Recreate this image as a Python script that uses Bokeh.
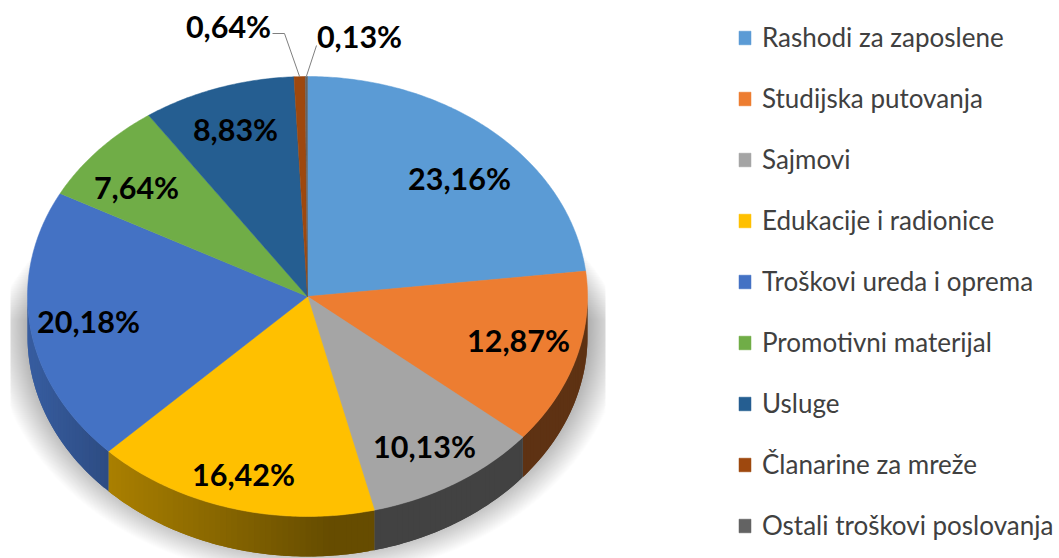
from bokeh.plotting import figure
from bokeh.models import Range1d, Legend, LegendItem
from bokeh.core.properties import value
from bokeh.embed import file_html
from bokeh.resources import INLINE
import numpy as np

categories = ["Rashodi za zaposlene", "Studijska putovanja", "Sajmovi", "Edukacije i radionice",
              "Troškovi ureda i oprema", "Promotivni materijal", "Usluge", "Članarine za mreže",
              "Ostali troškovi poslovanja"]
shares = [23.16, 12.87, 10.13, 16.42, 20.18, 7.64, 8.83, 0.64, 0.13]
colors = ["#5B9BD5", "#ED7D31", "#A5A5A5", "#FFC000", "#4472C4", "#70AD47", "#255E91", "#9E480E", "#636363"]

# layout, in reference pixels
W, H = 1059, 558
CX, CY, RX, RY, DEPTH = 307, 296, 280, 220, 40
LABEL_X = [459, 518, 424, 243, 88, 136, 235, 228, 359]
LABEL_Y = [177, 339, 445, 473, 320, 186, 128, 25, 35]

p = figure(width=W, height=H, x_range=Range1d(0, W), y_range=Range1d(H, 0), output_backend="svg",
           toolbar_location=None, min_border=0, outline_line_color=None, background_fill_color="white",
           border_fill_color="white", styles={"position": "absolute", "left": "0", "top": "0"})
p.axis.visible = False
p.grid.visible = False


def rgb(hexcol):
    return np.array([int(hexcol[i:i + 2], 16) for i in (1, 3, 5)], dtype=float)


def shade(hexcol, f):
    c = (rgb(hexcol) * f).clip(0, 255).astype(int)
    return "#%02x%02x%02x" % tuple(c)


# soft shadow below the pie
LAYERS = 40
t = np.linspace(0, 2 * np.pi, 240)
for i in range(LAYERS):
    u = i / (LAYERS - 1)
    s = 36 * (1 - u)
    ex = CX + 1 + (RX + s) * np.sin(t)
    ey = CY + 30 - (RY + s * 0.9) * np.cos(t)
    ex = np.clip(ex, 10, 605)
    ey = np.clip(ey, 228 + 90 * (1 - u), H + 10)
    p.patch(ex, ey, fill_color="black", fill_alpha=0.009, line_color=None)

edges = np.concatenate([[0], np.cumsum(shares)]) / sum(shares) * 2 * np.pi

# rim: overlapping strips, shaded by horizontal position
for k in range(len(shares)):
    a0, a1 = max(edges[k], np.pi / 2), min(edges[k + 1], 3 * np.pi / 2)
    if a1 <= a0:
        continue
    n = max(2, int((a1 - a0) / 0.02))
    aa = np.linspace(a0, a1, n)
    step = aa[1] - aa[0]
    for a in aa[:-1]:
        seg = np.linspace(a, min(a + 2 * step, a1), 4)
        xr, yr = CX + RX * np.sin(seg), CY - RY * np.cos(seg)
        f = np.interp(CX + RX * np.sin(a + step / 2), [27, 107, 330, 587], [0.82, 0.67, 0.40, 0.40])
        p.patch(np.concatenate([xr, xr[::-1]]), np.concatenate([yr, yr[::-1] + DEPTH]),
                fill_color=shade(colors[k], f), line_color=None)

# top face
items = []
for k, name in enumerate(categories):
    aa = np.linspace(edges[k], edges[k + 1], max(3, int((edges[k + 1] - edges[k]) / 0.01)))
    xs = np.concatenate([[CX], CX + RX * np.sin(aa)])
    ys = np.concatenate([[CY], CY - RY * np.cos(aa)])
    r = p.patch(xs, ys, fill_color=colors[k], line_color=colors[k], line_width=0.5)
    items.append(LegendItem(label=name, renderers=[r]))

# leader lines of the two small slices, ending on the rim at their mid angles
mid = (edges[:-1] + edges[1:]) / 2
p.line([272, 284, CX + RX * np.sin(mid[7])], [33, 33, CY - RY * np.cos(mid[7])], line_color="#7f7f7f", line_width=1)
p.line([316, CX + RX * np.sin(mid[8])], [45, CY - RY * np.cos(mid[8])], line_color="#7f7f7f", line_width=1)

labels = [f"{v:.2f}%".replace(".", ",") for v in shares]
p.text(LABEL_X, LABEL_Y, text=labels, text_font=value("Lato"), text_font_style="bold",
       text_font_size="30.5px", text_color="#000000", text_align="center", text_baseline="middle")

legend = Legend(items=items, location=(737, 17), orientation="vertical", glyph_width=15, glyph_height=17,
                label_standoff=10, spacing=29, padding=0, margin=0, border_line_color=None,
                background_fill_alpha=0, label_text_font="Lato", label_text_font_size="26px",
                label_text_color="#404040", label_height=31, label_text_baseline="middle")
p.add_layout(legend, "center")

open("out.html", "w").write(file_html(p, INLINE))
